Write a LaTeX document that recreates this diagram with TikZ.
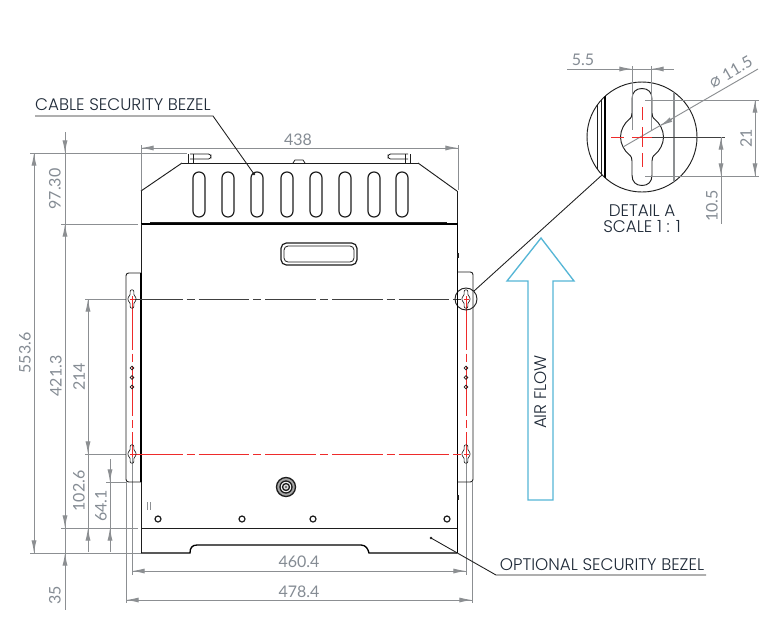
\documentclass[tikz,border=0pt]{standalone}
\usepackage{fontspec}
\setmainfont{Lato}
\newfontfamily\labelfont{Poppins Light}
\newfontfamily\symfont{DejaVu Sans}
\usetikzlibrary{arrows.meta}
\definecolor{dimc}{HTML}{8C8F92}
\definecolor{dimt}{HTML}{858C94}
\definecolor{inkc}{HTML}{1E1E1E}
\definecolor{labelc}{HTML}{1F2A38}
\definecolor{redc}{HTML}{EE2B2B}
\definecolor{flowc}{HTML}{55B6D6}
\newcommand{\keyhole}[4][]{%
  \begin{scope}[shift={(#2,#3)},scale=#4]
    \draw[part,#1] (0,-48.5) .. controls (6,-48.5) and (10,-45) .. (10,-38) -- (10,-24)
      .. controls (10,-21) and (10.6,-19.3) .. (13.5,-17) .. controls (17.5,-13.8) and (21.5,-7) .. (21.5,0)
      .. controls (21.5,7) and (17.5,13.8) .. (13.5,17) .. controls (10.6,19.3) and (10,21) .. (10,24)
      -- (10,38) .. controls (10,45) and (6,48.5) .. (0,48.5)
      .. controls (-6,48.5) and (-10,45) .. (-10,38) -- (-10,24)
      .. controls (-10,21) and (-10.6,19.3) .. (-13.5,17) .. controls (-17.5,13.8) and (-21.5,7) .. (-21.5,0)
      .. controls (-21.5,-7) and (-17.5,-13.8) .. (-13.5,-17) .. controls (-10.6,-19.3) and (-10,-21) .. (-10,-24)
      -- (-10,-38) .. controls (-10,-45) and (-6,-48.5) .. (0,-48.5) -- cycle;
  \end{scope}}
\tikzset{
  x=.75pt,y=-.75pt,
  part/.style={draw=inkc,line width=.7pt},
  thick part/.style={draw=black,line width=1.2pt},
  dimline/.style={draw=dimc,line width=.7pt},
  tip/.style={dimline,-{Latex[length=9.5pt,width=3.8pt,fill=dimc]}},
  dimtext/.style={text=dimt,font=\fontsize{12}{14}\selectfont,inner sep=0pt},
  labeltext/.style={text=labelc,font=\labelfont\fontsize{12.6}{15}\selectfont,inner sep=0pt},
  leader/.style={draw=inkc,line width=.65pt},
  redline/.style={draw=redc,line width=.6pt,dash pattern=on 38pt off 3pt on 6pt off 3pt},
  redaxis/.style={draw=redc,line width=.6pt},
  slotbox/.style={part,line width=.9pt,rounded corners=4.4pt},
  flow/.style={draw=flowc,line width=1pt,fill=white},
  small key/.style={line width=.45pt},
}
\begin{document}
\begin{tikzpicture}
\useasboundingbox (0,0) rectangle (759,618);
\fill[white] (0,0) rectangle (759,618);

% extension and dimension lines: main view
\draw[dimline] (30,153) -- (187,153);
\draw[dimline] (61,224) -- (138,224);
\draw[dimline] (61,528) -- (138,528);
\draw[dimline] (30,553) -- (141,553);
\draw[dimline] (85,299) -- (126,299);
\draw[dimline] (85,454) -- (126,454);
\draw[dimline] (106,482) -- (126,482);
\draw[dimline] (141,145) -- (141,190);
\draw[dimline] (458,145) -- (458,190);
\draw[dimline] (132,454) -- (132,575);
\draw[dimline] (126,482) -- (126,603);
\draw[dimline] (466,454) -- (466,575);
\draw[dimline] (472,482) -- (472,603);

\draw[dimline] (34,153) -- (34,553);
\draw[tip] (34,170) -- (34,153);
\draw[tip] (34,536) -- (34,553);
\draw[dimline] (65,132) -- (65,610);
\draw[tip] (65,139) -- (65,153);
\draw[tip] (65,238) -- (65,224);
\draw[tip] (65,515) -- (65,528);
\draw[tip] (65,566) -- (65,553);
\draw[dimline] (88,299) -- (88,552);
\draw[tip] (88,312) -- (88,299);
\draw[tip] (88,441) -- (88,454);
\draw[tip] (88,541) -- (88,528);
\draw[dimline] (110,459) -- (110,552);
\draw[tip] (110,469) -- (110,482);
\draw[tip] (110,541) -- (110,528);
\draw[dimline] (141,148) -- (458,148);
\draw[tip] (154,148) -- (141,148);
\draw[tip] (445,148) -- (458,148);
\draw[dimline] (132,571) -- (466,571);
\draw[tip] (145,571) -- (132,571);
\draw[tip] (453,571) -- (466,571);
\draw[dimline] (126,600) -- (472,600);
\draw[tip] (139,600) -- (126,600);
\draw[tip] (459,600) -- (472,600);

% flanges
\draw[part,rounded corners=2pt] (141,273) -- (126,273) -- (126,482) -- (141,482);
\draw[part,rounded corners=2pt] (458,272) -- (473,272) -- (473,482) -- (458,482);

% body
\draw[part] (182,163) -- (418,163);
\draw[part] (182,163) -- (141,191);
\draw[part] (418,163) -- (457,191);
\draw[part] (141,191) -- (141,224);
\draw[part] (457,191) -- (457,224);
\draw[thick part] (141,224) -- (458,224);
\draw[part] (150,222.5) -- (447,222.5);
\draw[part] (141,224) -- (141,553);
\draw[thick part] (141,273) -- (141,482);
\draw[thick part] (457.5,224) -- (457.5,553);
\draw[part] (141,528) -- (457,528);
\draw[thick part,line width=1pt] (141,553) -- (190,553) .. controls (190,548) and (192,545) .. (197,545) -- (361,545) .. controls (366,545) and (368,549) .. (369,553) -- (457,553);

% top tabs
\draw[part,line width=.6pt] (188,154) -- (188,163) (193,154) -- (193,163);
\draw[part,line width=.6pt,rounded corners=2pt] (190,154) -- (211,154) -- (211,159) -- (190,159);
\draw[part,line width=.6pt] (405,154) -- (405,163) (410,154) -- (410,163);
\draw[part,line width=.6pt,rounded corners=2pt] (408,154) -- (388,154) -- (388,159) -- (408,159);
\draw[part,line width=.6pt] (293,163) -- (295,160) -- (303,160) -- (305,163);
\draw[part,line width=1.2pt] (458,253) -- (458,258);
\draw[part,line width=1.2pt] (458,495) -- (458,500);

% vent slots
\foreach \sx in {199,228,257,287,316,345,374,402}
  \draw[slotbox] (\sx-6,172) rectangle (\sx+6,217);

% handle
\draw[part,rounded corners=4pt,line width=.9pt] (281,243) rectangle (357,265);
\draw[part,rounded corners=3pt,line width=.6pt] (284,246) rectangle (354,262);

% axes and keyholes
\draw[draw=black!75,line width=.5pt,dash pattern=on 38pt off 3pt on 6pt off 3pt] (132,299) -- (466,299);
\draw[redline] (132,454) -- (466,454);
\draw[redline] (132,299) -- (132,454);
\draw[redline] (466,299) -- (466,454);
\keyhole[small key]{132}{299}{0.19}
\keyhole[small key]{132}{454}{0.19}
\keyhole[small key]{466}{299}{0.19}
\keyhole[small key]{466}{454}{0.19}
\foreach \hx in {132,466}{
  \draw[redaxis] (\hx-2.5,299) -- (\hx+2.5,299) (\hx,296) -- (\hx,302);
  \draw[redaxis] (\hx-2.5,454) -- (\hx+2.5,454) (\hx,451) -- (\hx,457);
  \foreach \hy in {368,377.5,387}
    \draw[part,line width=.5pt] (\hx,\hy) circle (1.8);
}

% detail marker
\draw[part] (466,299) circle (11);
\draw[thick part,line width=1.2pt] (457.5,291) -- (457.5,307);

% lower panel details
\draw[dimc,line width=.7pt] (147,502) -- (147,510) (150,502) -- (150,510);
\foreach \cx in {158,242,313,447}
  \draw[part,line width=.9pt] (\cx,519) circle (3);
\draw[part,line width=1pt,fill=gray!70] (286,487) circle (9.5);
\draw[part,line width=1pt,fill=white] (286,487) circle (6);
\draw[part,line width=1pt,fill=gray!30] (286,487) circle (3.5);
\fill[inkc] (286,487) circle (.8);

% detail view
\draw[part] (642,137) circle (55);
\begin{scope}
  \clip (642,137) circle (55);
  \draw[part,line width=.5pt] (597,70) -- (597,200) (601,70) -- (601,200);
  \draw[thick part,line width=1.1pt] (605,70) -- (605,200);
  \draw[dimc,line width=1pt] (674,70) -- (674,200);
\end{scope}
\keyhole{642}{137}{1}

% detail dimensions
\draw[dimline] (632,66) -- (632,130) (651,66) -- (651,130);
\draw[dimline] (567,69) -- (674,69);
\draw[tip] (619,69) -- (632,69);
\draw[tip] (664,69) -- (651,69);
\draw[dimline] (645,100) -- (759,100) (645,176) -- (759,176);
\draw[dimline] (755,100) -- (755,176);
\draw[tip] (755,113) -- (755,100);
\draw[tip] (755,163) -- (755,176);
\draw[draw=black!75,line width=.5pt] (652,137) -- (725,137);
\draw[dimline] (721,137) -- (721,224);
\draw[tip] (721,150) -- (721,137);
\draw[tip] (721,163) -- (721,176);
\draw[dimline] (623,147) -- (758,69);
\draw[tip] (672,119) -- (660,126);
\draw[redaxis] (611,137) -- (624,137) (632,137) -- (652,137);
\draw[redaxis] (642,107) -- (642,120) (642,127) -- (642,147) (642,153) -- (642,167);

% leaders
\coordinate (markerpt) at (474,291);
\coordinate (detailpt) at (602,175);
\draw[leader] (markerpt) -- (detailpt);
\coordinate (cableul) at (35,116);
\coordinate (cablekn) at (213,116);
\coordinate (cablept) at (254,174);
\draw[leader] (cableul) -- (cablekn) -- (cablept);
\fill[inkc] (cablept) circle (1.3);
\coordinate (optul) at (706,575);
\coordinate (optkn) at (496,575);
\coordinate (optpt) at (431,538);
\draw[leader] (optul) -- (optkn) -- (optpt);
\fill[inkc] (optpt) circle (1.3);

% air flow arrow
\draw[flow,line join=miter] (541,238) -- (574,281) -- (553,281) -- (553,500) -- (528,500) -- (528,281) -- (507,281) -- cycle;
\node[labeltext,rotate=90] (airflow) at (541,392) {AIR FLOW};

% labels
\node[labeltext] (cable) at (123,105) {CABLE SECURITY BEZEL};
\node[labeltext] (optional) at (602,565) {OPTIONAL SECURITY BEZEL};
\node[labeltext] (detaila) at (642,211) {DETAIL A};
\node[labeltext] (scalea) at (642,227) {SCALE 1 : 1};

\node[dimtext] (d438) at (298,140) {438};
\node[dimtext,rotate=90] (d5536) at (25,353) {553.6};
\node[dimtext,rotate=90] (d9730) at (55,189) {97.30};
\node[dimtext,rotate=90] (d4213) at (56,376) {421.3};
\node[dimtext,rotate=90] (d214) at (79,377) {214};
\node[dimtext,rotate=90] (d1026) at (79,491) {102.6};
\node[dimtext,rotate=90] (d641) at (101,506) {64.1};
\node[dimtext,rotate=90] (d35) at (55,595) {35};
\node[dimtext] (d4604) at (299,562) {460.4};
\node[dimtext] (d4784) at (299,592) {478.4};
\node[dimtext] (d55) at (583,60) {5.5};
\node[dimtext,rotate=30] (d115) at (731,72) {{\symfont\fontsize{13}{15}\selectfont ⌀} 11.5};
\node[dimtext,rotate=90] (d21) at (746,138) {21};
\node[dimtext,rotate=90] (d105) at (712,206) {10.5};
\end{tikzpicture}
\end{document}
